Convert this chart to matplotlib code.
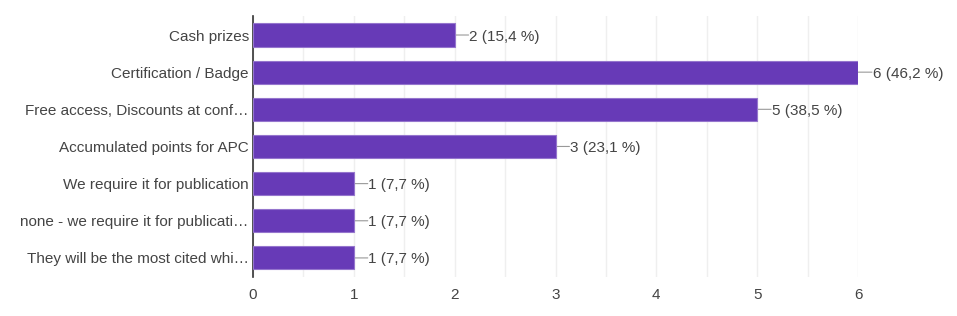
import matplotlib

matplotlib.use("Agg")
import matplotlib.pyplot as plt
from matplotlib.ticker import MultipleLocator

# --- data ---
CATEGORIES = [
    "Cash prizes",
    "Certification / Badge",
    "Free access, Discounts at conf…",
    "Accumulated points for APC",
    "We require it for publication",
    "none - we require it for publicati…",
    "They will be the most cited whi…",
]
COUNTS = [2, 6, 5, 3, 1, 1, 1]
PERCENTS = ["15,4", "46,2", "38,5", "23,1", "7,7", "7,7", "7,7"]
XTICKS = [0, 1, 2, 3, 4, 5, 6]

# --- style ---
BAR = "#673AB7"
BAR_EDGE = "#9575CD"
TEXT = "#444444"
GRID = "#EFEFEF"
AXIS = "#333333"

plt.rcParams.update({
    "font.family": ["Liberation Sans", "DejaVu Sans"],
    "font.size": 11,
    "text.color": TEXT,
})

fig = plt.figure(figsize=(9.57, 3.16), dpi=100)
ax = fig.add_axes([0.2644, 0.125, 0.6322, 0.823])

y = list(range(len(CATEGORIES)))
ax.barh(y, COUNTS, height=0.62, color=BAR, edgecolor=BAR_EDGE, linewidth=0.8, zorder=3)

for yi, c, p in zip(y, COUNTS, PERCENTS):
    ax.annotate("", xy=(c, yi), xytext=(10, 0), textcoords="offset points",
                arrowprops=dict(arrowstyle="-", color="#999999", lw=0.8,
                                shrinkA=0, shrinkB=0), zorder=2)
    ax.annotate(f"{c} ({p} %)", (c, yi), xytext=(10.5, 0), textcoords="offset points",
                ha="left", va="center_baseline", fontsize=11, color=TEXT)

ax.set_xlim(0, 6)
ax.set_ylim(len(CATEGORIES) - 0.5, -0.5)
ax.set_yticks(y)
ax.set_yticklabels(CATEGORIES, fontsize=11, color=TEXT, va="center_baseline")
ax.set_xticks(XTICKS)
ax.set_xticklabels([str(t) for t in XTICKS], fontsize=11, color=TEXT)
ax.xaxis.set_minor_locator(MultipleLocator(0.5))

ax.grid(axis="x", which="both", color=GRID, linewidth=1, zorder=0)
ax.set_axisbelow(True)
for side in ("top", "right", "bottom"):
    ax.spines[side].set_visible(False)
ax.spines["left"].set_color(AXIS)
ax.spines["left"].set_linewidth(1.2)
ax.tick_params(length=0, which="both")
ax.tick_params(axis="y", pad=3)
ax.tick_params(axis="x", pad=8)

fig.savefig("out.png", dpi=100, facecolor="white")
